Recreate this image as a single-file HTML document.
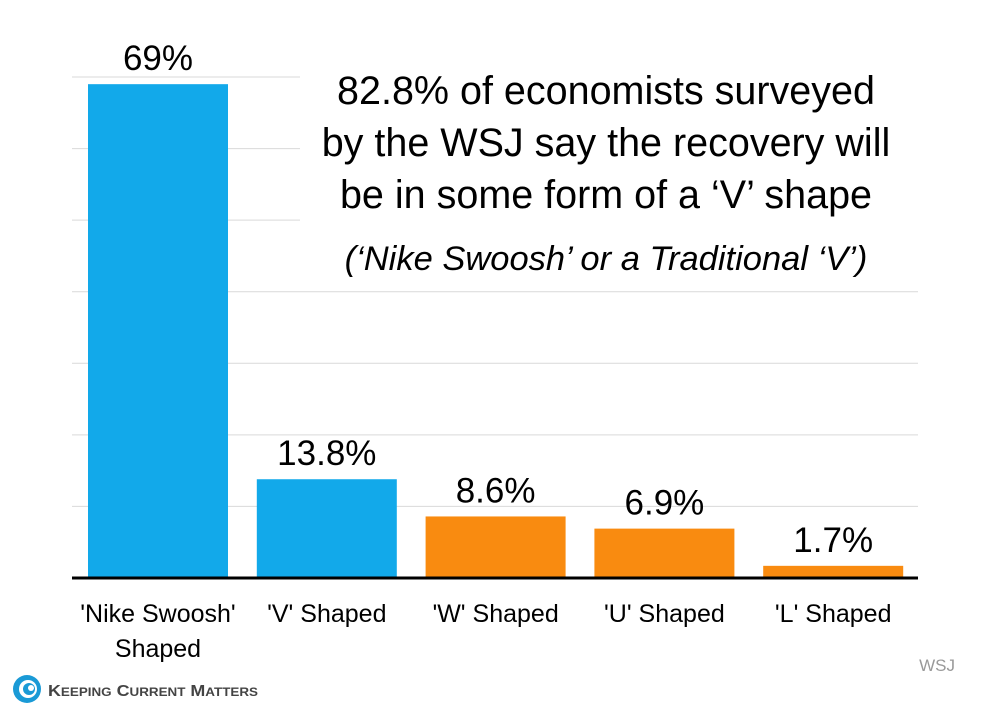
<!DOCTYPE html>
<html><head><meta charset="utf-8"><style>
body{margin:0;background:#fff;width:1000px;height:714px;overflow:hidden;font-family:"Liberation Sans",sans-serif}
svg{display:block}
</style></head><body>
<svg width="1000" height="714" viewBox="0 0 1000 714">
<g id="grid"></g>
<g id="bars"></g>
<line x1="72" y1="578" x2="918" y2="578" stroke="#000" stroke-width="3"/>
<rect x="300" y="62" width="620" height="222" fill="#fff"/>
<g font-size="39.5" text-anchor="middle" fill="#000">
<text x="606" y="104">82.8% of economists surveyed</text>
<text x="606" y="156">by the WSJ say the recovery will</text>
<text x="606" y="208">be in some form of a ‘V’ shape</text>
<text x="606" y="270" font-style="italic" font-size="34.5">(‘Nike Swoosh’ or a Traditional ‘V’)</text>
</g>
<text x="955" y="671" font-size="17" fill="#999" text-anchor="end">WSJ</text>
<g>
<circle cx="27" cy="689" r="14" fill="#1a9ad6"/>
<circle cx="28" cy="689" r="9" fill="#fff"/>
<circle cx="29" cy="689" r="6" fill="#1a9ad6"/>
<circle cx="31" cy="688" r="3" fill="#fff"/>
<text x="48" y="696" font-size="16" font-weight="bold" fill="#444" textLength="210" lengthAdjust="spacingAndGlyphs">K<tspan font-size="12">EEPING</tspan> C<tspan font-size="12">URRENT</tspan> M<tspan font-size="12">ATTERS</tspan></text>
</g>
</svg>
<script>
const categories=["'Nike Swoosh'|Shaped","'V' Shaped","'W' Shaped","'U' Shaped","'L' Shaped"];
const values=[69,13.8,8.6,6.9,1.7];
const valueLabels=["69%","13.8%","8.6%","6.9%","1.7%"];
const barColors=["#12a9ea","#12a9ea","#f98b10","#f98b10","#f98b10"];
const gridTicks=[10,20,30,40,50,60,70];
const ns="http://www.w3.org/2000/svg";
const y0=578,pxPer=7.157;
function yScale(v){return y0-v*pxPer;}
function xScale(i){return 88+i*168.8;}
const bw=140;
const grid=document.getElementById('grid'),bars=document.getElementById('bars');
gridTicks.forEach(t=>{const l=document.createElementNS(ns,'line');
l.setAttribute('x1',72);l.setAttribute('x2',918);l.setAttribute('y1',yScale(t));l.setAttribute('y2',yScale(t));
l.setAttribute('stroke','#d9d9d9');l.setAttribute('stroke-width','1');


grid.appendChild(l);});
values.forEach((v,i)=>{
const r=document.createElementNS(ns,'rect');
r.setAttribute('x',xScale(i));r.setAttribute('y',yScale(v));r.setAttribute('width',bw);r.setAttribute('height',y0-yScale(v));r.setAttribute('fill',barColors[i]);


bars.appendChild(r);
const t=document.createElementNS(ns,'text');
t.setAttribute('x',xScale(i)+bw/2);t.setAttribute('y',yScale(v)-14);t.setAttribute('text-anchor','middle');t.setAttribute('font-size','35');
t.textContent=valueLabels[i];


bars.appendChild(t);
categories[i].split('|').forEach((ln,k)=>{
const c=document.createElementNS(ns,'text');
c.setAttribute('x',xScale(i)+bw/2);c.setAttribute('y',622+k*35);c.setAttribute('text-anchor','middle');c.setAttribute('font-size','25');
c.textContent=ln;


bars.appendChild(c);});
});
</script>
</body></html>
